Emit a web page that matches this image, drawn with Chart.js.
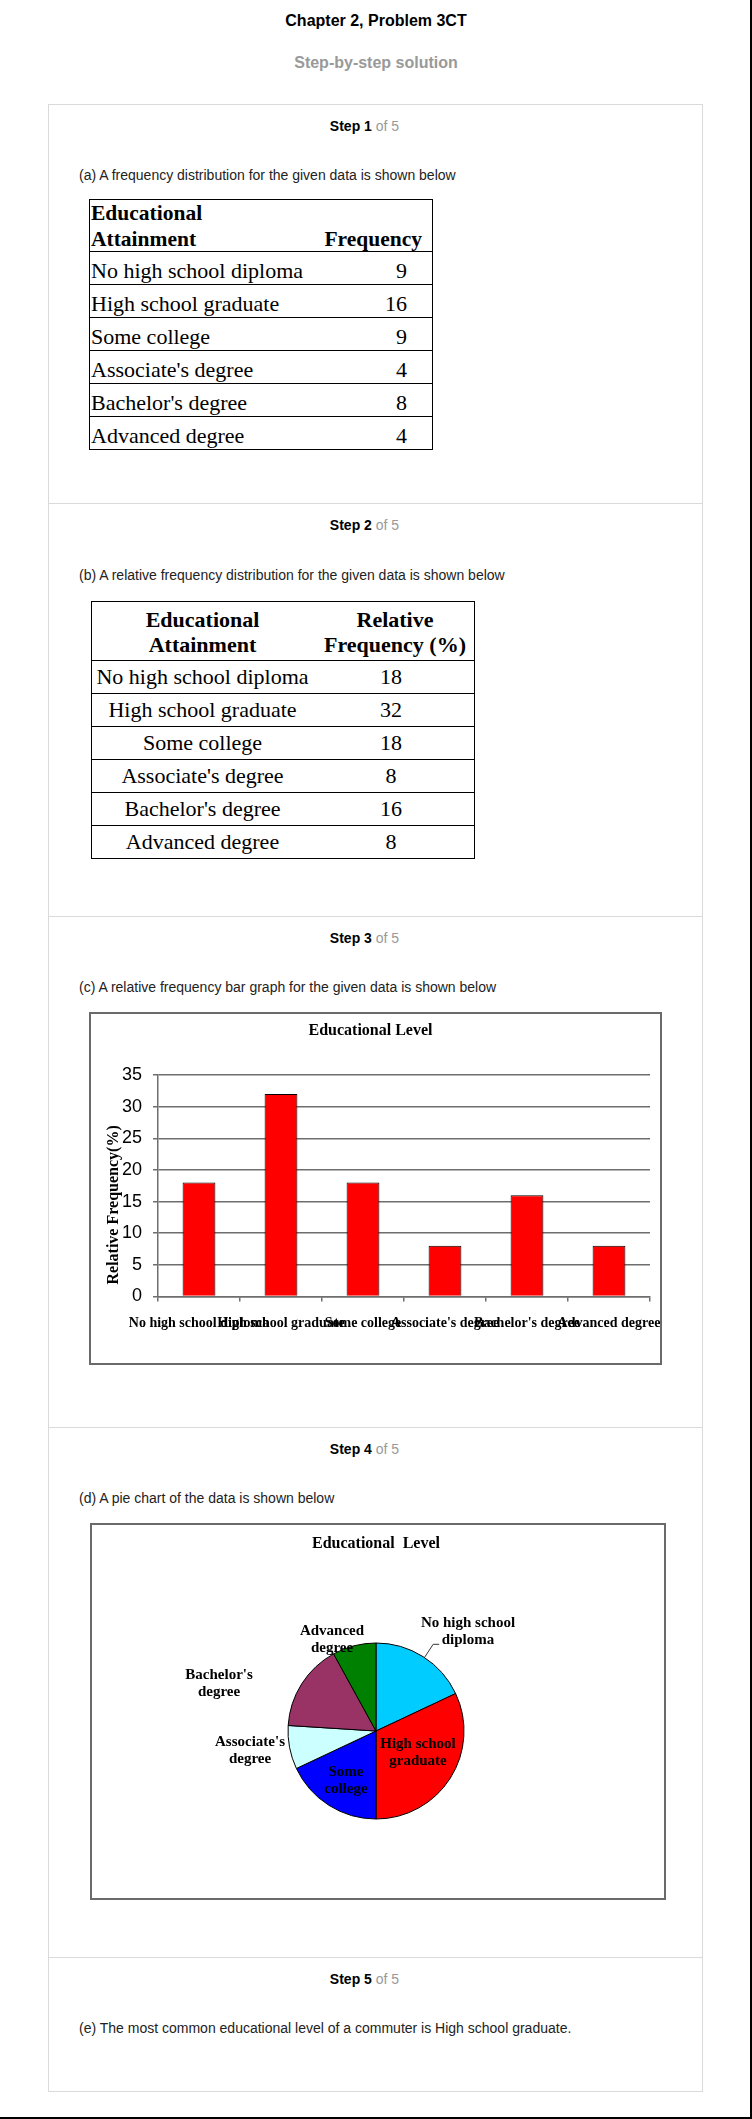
<!DOCTYPE html>
<html>
<head>
<meta charset="utf-8">
<title>Chapter 2, Problem 3CT</title>
<script src="https://cdn.jsdelivr.net/npm/chart.js@4/dist/chart.umd.min.js"></script>
<style>
html,body{margin:0;padding:0;background:#fff;}
body{position:relative;width:752px;height:2119px;overflow:hidden;font-family:"Liberation Sans",Arial,Helvetica,sans-serif;color:#222;}
.a{position:absolute;}
#frame{left:0;top:0;width:750px;height:2117px;border-right:2px solid #000;border-bottom:2px solid #000;}
.hd{left:0;width:752px;text-align:center;font-weight:bold;font-size:16px;line-height:20px;white-space:nowrap;}
#card{left:48px;top:104px;width:653px;height:1986px;border:1px solid #dadada;}
.sep{left:49px;width:653px;height:1px;background:#dadada;}
.step{left:48px;width:633px;text-align:center;font-size:14px;line-height:16px;color:#000;white-space:nowrap;}
.step b{font-weight:bold;}
.step span{color:#999;}
.para{left:79px;font-size:14px;line-height:16px;color:#222;white-space:nowrap;}
.tbl{font-family:"Liberation Serif","Times New Roman",Times,serif;color:#000;border:1px solid #000;}
.tbl .row{position:relative;border-bottom:1px solid #000;}
.tbl .row:last-child{border-bottom:none;}
.tbl .c{position:absolute;top:0;white-space:nowrap;}
.box{border:2px solid #6a6a6a;box-sizing:border-box;background:#fff;}
canvas{display:block;}
</style>
</head>
<body>
<div class="a" id="frame"></div>
<div class="a hd" style="top:11px;color:#000;">Chapter 2, Problem 3CT</div>
<div class="a hd" style="top:53px;color:#999;">Step-by-step solution</div>
<div class="a" id="card"></div>
<div class="a sep" style="top:503px"></div>
<div class="a sep" style="top:916px"></div>
<div class="a sep" style="top:1427px"></div>
<div class="a sep" style="top:1957px"></div>

<div class="a step" style="top:118px"><b>Step 1</b> <span>of 5</span></div>
<div class="a para" style="top:167px">(a) A frequency distribution for the given data is shown below</div>
<div class="a tbl" id="t1" style="left:89px;top:199px;width:342px;"></div>

<div class="a step" style="top:517px"><b>Step 2</b> <span>of 5</span></div>
<div class="a para" style="top:567px">(b) A relative frequency distribution for the given data is shown below</div>
<div class="a tbl" id="t2" style="left:91px;top:601px;width:382px;"></div>

<div class="a step" style="top:930px"><b>Step 3</b> <span>of 5</span></div>
<div class="a para" style="top:979px">(c) A relative frequency bar graph for the given data is shown below</div>
<div class="a box" style="left:89px;top:1012px;width:573px;height:353px;"><canvas id="bar" width="569" height="349"></canvas></div>

<div class="a step" style="top:1441px"><b>Step 4</b> <span>of 5</span></div>
<div class="a para" style="top:1490px">(d) A pie chart of the data is shown below</div>
<div class="a box" style="left:90px;top:1523px;width:576px;height:377px;"><canvas id="pie" width="572" height="373"></canvas></div>

<div class="a step" style="top:1971px"><b>Step 5</b> <span>of 5</span></div>
<div class="a para" style="top:2020px">(e) The most common educational level of a commuter is High school graduate.</div>

<script>
// ---- data ----
const categories = ["No high school diploma", "High school graduate", "Some college", "Associate's degree", "Bachelor's degree", "Advanced degree"];
const frequency = [9, 16, 9, 4, 8, 4];
const relativeFrequency = [18, 32, 18, 8, 16, 8];
const yAxisMin = 0;
const yAxisMax = 35;
const yAxisStep = 5;
const pieColors = ["#00CCFF", "#FF0000", "#0000FF", "#CCFFFF", "#993366", "#008000"];

// ---- label placement for pie (angle shift in degrees from slice middle, distance as radius factor) ----
const pieLabelShift = [10.5, -5.3, -1.4, 2.0, -15.7, -11.3];
const pieLabelDist = [1.536, 0.536, 0.663, 1.449, 1.862, 1.153];
const pieLeader = [true, false, false, false, false, false];

const SERIF = '"Liberation Serif", "Times New Roman", Times, serif';
const SANS = '"Liberation Sans", Arial, Helvetica, sans-serif';

// ---- tables ----
function el(tag, cls, style, html) {
  const d = document.createElement(tag);
  if (cls) d.className = cls;
  if (style) d.setAttribute('style', style);
  if (html !== undefined) d.innerHTML = html;
  return d;
}
(function buildT1() {
  const t = document.getElementById('t1');
  const h = el('div', 'row', 'height:51px;font-weight:bold;font-size:21.5px;line-height:26px;');
  h.appendChild(el('div', 'c', 'left:1px;', 'Educational<br>Attainment'));
  h.appendChild(el('div', 'c', 'right:10px;top:26px;', 'Frequency'));
  t.appendChild(h);
  categories.forEach((c, i) => {
    const r = el('div', 'row', 'height:32px;font-size:22px;line-height:38px;');
    const a = el('div', 'c', 'left:1px;'); a.textContent = c;
    const b = el('div', 'c', 'right:25px;'); b.textContent = String(frequency[i]);
    r.appendChild(a); r.appendChild(b);
    t.appendChild(r);
  });
})();
(function buildT2() {
  const t = document.getElementById('t2');
  const h = el('div', 'row', 'height:58px;font-weight:bold;font-size:22px;line-height:25px;');
  h.appendChild(el('div', 'c', 'left:0;top:5px;width:221px;text-align:center;', 'Educational<br>Attainment'));
  h.appendChild(el('div', 'c', 'left:224px;top:5px;width:158px;text-align:center;', 'Relative<br>Frequency (%)'));
  t.appendChild(h);
  categories.forEach((c, i) => {
    const r = el('div', 'row', 'height:32px;font-size:22px;line-height:32px;');
    const a = el('div', 'c', 'left:0;width:221px;text-align:center;'); a.textContent = c;
    const b = el('div', 'c', 'left:221px;width:156px;text-align:center;'); b.textContent = String(relativeFrequency[i]);
    r.appendChild(a); r.appendChild(b);
    t.appendChild(r);
  });
})();

// ---- bar chart ----
const GRID = '#6e6e6e';
new Chart(document.getElementById('bar'), {
  type: 'bar',
  data: {
    labels: categories,
    datasets: [{
      data: relativeFrequency,
      backgroundColor: '#FF0000',
      borderColor: '#000000',
      borderWidth: 1,
      barPercentage: 0.4,
      categoryPercentage: 1.0
    }]
  },
  options: {
    responsive: false,
    animation: false,
    devicePixelRatio: 1,
    layout: { padding: { left: 0, right: 10, top: 0, bottom: 0 } },
    plugins: {
      legend: { display: false },
      tooltip: { enabled: false },
      title: {
        display: true, text: 'Educational Level', color: '#000',
        font: { family: SERIF, size: 16, weight: 'bold', lineHeight: 1.2 },
        padding: { top: 7.4, bottom: 34.4 }
      }
    },
    scales: {
      x: {
        grid: { display: true, drawOnChartArea: false, drawTicks: true, tickLength: 5, color: GRID, lineWidth: 1.5 },
        border: { display: true, color: GRID, width: 1.5 },
        ticks: { autoSkip: false, maxRotation: 0, minRotation: 0, padding: 13, color: '#000',
                 font: { family: SERIF, size: 14, weight: 'bold', lineHeight: 1.2 } },
        afterFit(s) { s.height = 66.5; s.paddingLeft = 0; s.paddingRight = 0; }
      },
      y: {
        min: yAxisMin, max: yAxisMax,
        ticks: { stepSize: yAxisStep, padding: 11, color: '#000', font: { family: SANS, size: 18 } },
        grid: { color: GRID, lineWidth: 1.5, drawTicks: true, tickLength: 5 },
        border: { display: true, color: GRID, width: 1.5 },
        title: {
          display: true, text: '   Relative Frequency(%)', align: 'start', color: '#000',
          font: { family: SERIF, size: 16, weight: 'bold', lineHeight: 1.2 },
          padding: { top: 13.4, bottom: 0 }
        },
        afterFit(s) { s.width = 67; }
      }
    }
  }
});

// ---- pie chart ----
const pieLabelPlugin = {
  id: 'pieLabels',
  afterDatasetsDraw(chart) {
    const meta = chart.getDatasetMeta(0);
    const ctx = chart.ctx;
    ctx.save();
    ctx.font = 'bold 15px ' + SERIF;
    ctx.fillStyle = '#000';
    ctx.strokeStyle = '#333';
    ctx.lineWidth = 1;
    ctx.textAlign = 'center';
    ctx.textBaseline = 'middle';
    meta.data.forEach((arc, i) => {
      const p = arc.getProps(['x', 'y', 'startAngle', 'endAngle', 'outerRadius'], true);
      const mid = (p.startAngle + p.endAngle) / 2;
      const ang = mid + pieLabelShift[i] * Math.PI / 180;
      const r = p.outerRadius * pieLabelDist[i];
      const cx = p.x + Math.cos(ang) * r;
      const cy = p.y + Math.sin(ang) * r;
      const name = chart.data.labels[i];
      const k = name.lastIndexOf(' ');
      const lines = [name.slice(0, k), name.slice(k + 1)];
      lines.forEach((ln, j) => ctx.fillText(ln, cx, cy + (j - (lines.length - 1) / 2) * 17));
      if (pieLeader[i]) {
        const la = mid + 1 * Math.PI / 180;
        const x0 = p.x + Math.cos(la) * p.outerRadius, y0 = p.y + Math.sin(la) * p.outerRadius;
        const x1 = p.x + Math.cos(la) * p.outerRadius * 1.18, y1 = p.y + Math.sin(la) * p.outerRadius * 1.18;
        ctx.beginPath();
        ctx.moveTo(x0, y0);
        ctx.lineTo(x1, y1);
        ctx.lineTo(x1 + 6, y1);
        ctx.stroke();
      }
    });
    ctx.restore();
  }
};

new Chart(document.getElementById('pie'), {
  type: 'pie',
  data: {
    labels: categories,
    datasets: [{
      data: relativeFrequency,
      backgroundColor: pieColors,
      borderColor: '#000000',
      borderWidth: 1,
      radius: 88
    }]
  },
  options: {
    responsive: false,
    animation: false,
    devicePixelRatio: 1,
    layout: { padding: { left: 0, right: 4, top: 0, bottom: 0 } },
    plugins: {
      legend: { display: false },
      tooltip: { enabled: false },
      title: {
        display: true, text: 'Educational  Level', color: '#000',
        font: { family: SERIF, size: 16, weight: 'bold', lineHeight: 1.2 },
        padding: { top: 9.4, bottom: 10.4 }
      }
    }
  },
  plugins: [pieLabelPlugin]
});
</script>
</body>
</html>
